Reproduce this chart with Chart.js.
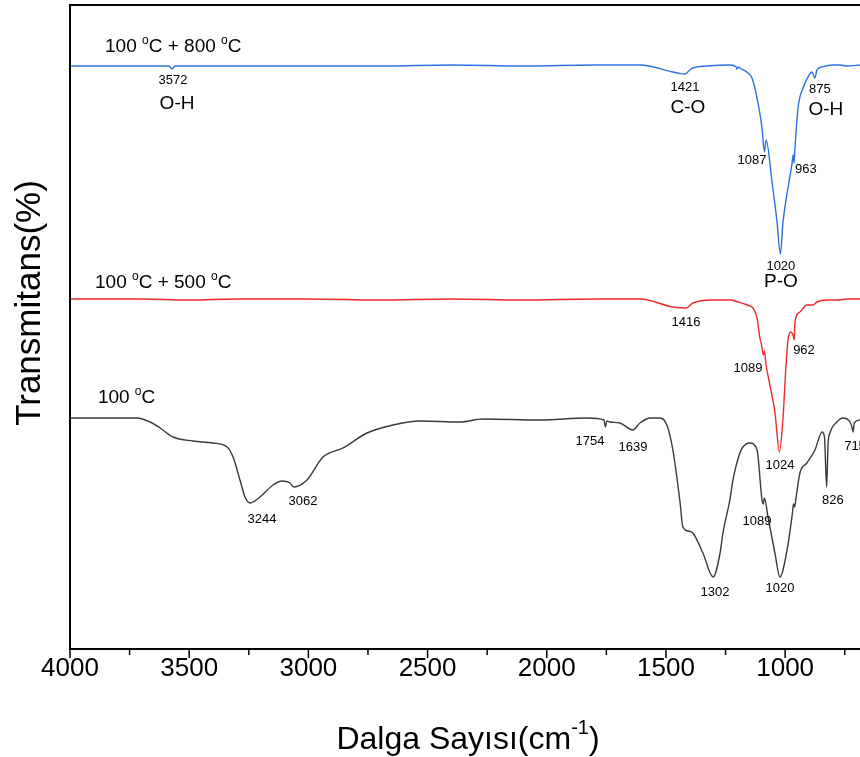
<!DOCTYPE html>
<html>
<head>
<meta charset="utf-8">
<script src="https://cdn.jsdelivr.net/npm/chart.js@4.4.1/dist/chart.umd.min.js"></script>
<style>
  html, body { margin: 0; padding: 0; background: #fff; }
  #wrap { width: 860px; height: 757px; position: relative; }
</style>
</head>
<body>
<div id="wrap"><canvas id="ftir"></canvas></div>
<script>
// FTIR spectra, wavenumber (cm-1) and stacked transmittance (arbitrary units)
const wn800 = [4000,3800,3620,3585,3572,3560,3300,3000,2700,2400,2100,1800,1609,1471,1450,1420,1400,1387,1328,1232,1205,1202,1195,1190,1156,1139,1118,1097,1087,1080,1055,1034,1020,1009,988,972,966,963,959,946,925,904,888,875,867,846,800,770,740,686];
const t800  = [583,583,583,583,580,583,583,583,583,584,583,584,584,577,576,575,579,581,583,584,582,580,582,581,576,571,551,521,497,509,467,427,395,427,461,484,494,486,500,541,561,572,577,571,579,582,584,584,583,584];

const wn500 = [4000,3700,3500,3300,3000,2700,2400,2100,1800,1609,1471,1416,1387,1303,1230,1198,1160,1135,1118,1106,1100,1091,1087,1080,1064,1043,1024,1009,997,988,976,967,962,959,938,909,883,867,825,780,740,686];
const t500  = [350,350,349,350,350,349,350,349,350,350,342,341,346,349,349,347,344,341,331,311,305,294,298,284,264,237,197,231,281,309,317,314,309,327,337,344,344,347,349,349,350,350];

const wn100 = [4000,3800,3719,3664,3622,3568,3484,3400,3341,3316,3287,3266,3244,3203,3148,3111,3077,3062,3006,2939,2855,2754,2645,2532,2364,2268,2029,1831,1760,1754,1748,1735,1693,1639,1609,1567,1525,1496,1471,1442,1429,1408,1387,1345,1302,1273,1261,1232,1219,1190,1177,1148,1118,1097,1092,1087,1072,1043,1022,992,970,965,960,955,938,909,875,845,835,826,820,812,783,758,728,720,715,710,686];
const t100  = [231,231,231,227,221,212,208,206,202,192,169,152,146,152,164,168,166,162,169,192,201,216,224,228,227,230,229,231,229,222,228,227,226,219,226,231,231,224,199,149,122,118,116,96,72,96,116,149,169,196,202,206,199,149,145,151,132,96,72,99,135,145,142,150,176,186,199,217,212,162,205,216,227,231,227,222,217,226,229];

const xTicks = [4000,3500,3000,2500,2000,1500,1000];

// text written on the plot: [text, wavenumber, transmittance, kind]
const notes = [
  ['100 °C + 800 °C', 3853, 602, 'series'],
  ['3572', 3568, 569, 'peak'],
  ['O-H', 3551, 545, 'group'],
  ['1421', 1420, 562, 'peak'],
  ['C-O', 1408, 541, 'group'],
  ['875', 854, 560, 'peak'],
  ['O-H', 829, 539, 'group'],
  ['1087', 1139, 489, 'peak'],
  ['963', 913, 480, 'peak'],
  ['1020', 1018, 383, 'peak'],
  ['P-O', 1018, 367, 'group'],
  ['100 °C + 500 °C', 3895, 366, 'series'],
  ['1416', 1416, 327, 'peak'],
  ['1089', 1156, 281, 'peak'],
  ['962', 921, 299, 'peak'],
  ['1024', 1022, 184, 'peak'],
  ['100 °C', 3883, 251, 'series'],
  ['3244', 3195, 130, 'peak'],
  ['3062', 3023, 148, 'peak'],
  ['1754', 1819, 208, 'peak'],
  ['1639', 1638, 202, 'peak'],
  ['1302', 1294, 57, 'peak'],
  ['1089', 1118, 128, 'peak'],
  ['1020', 1022, 61, 'peak'],
  ['826', 800, 149, 'peak'],
  ['715', 707, 203, 'peak']
];

const FONT = "'Liberation Sans', Arial, sans-serif";

function toPoints(xs, ys) {
  return xs.map((x, i) => ({ x: x, y: ys[i] }));
}

// draws text, turning the degree sign into a raised small "o"
function drawNote(ctx, text, x, y, size, align) {
  const parts = text.split('°');
  const supFont = Math.round(size * 0.65) + 'px ' + FONT;
  let total = 0;
  parts.forEach((p, i) => {
    ctx.font = size + 'px ' + FONT;
    total += ctx.measureText(p).width;
    if (i < parts.length - 1) { ctx.font = supFont; total += ctx.measureText('o').width; }
  });
  let cx = align === 'left' ? x : x - total / 2;
  ctx.textAlign = 'left';
  ctx.textBaseline = 'middle';
  parts.forEach((p, i) => {
    ctx.font = size + 'px ' + FONT;
    ctx.fillText(p, cx, y);
    cx += ctx.measureText(p).width;
    if (i < parts.length - 1) {
      ctx.font = supFont;
      ctx.fillText('o', cx, y - size * 0.33);
      cx += ctx.measureText('o').width;
    }
  });
}

const framePlugin = {
  id: 'framePlugin',
  afterDraw(chart) {
    const ctx = chart.ctx;
    const a = chart.chartArea;
    const xs = chart.scales.x;
    const ys = chart.scales.y;
    ctx.save();
    ctx.strokeStyle = '#000';
    ctx.lineWidth = 2;
    ctx.beginPath();
    ctx.moveTo(a.right + 2, a.top);
    ctx.lineTo(a.left, a.top);
    ctx.lineTo(a.left, a.bottom);
    ctx.lineTo(a.right + 2, a.bottom);
    ctx.stroke();

    // major and minor tick marks
    ctx.lineWidth = 1.5;
    for (let v = 4000; v >= 500; v -= 250) {
      const px = xs.getPixelForValue(v);
      if (px > a.right) continue;
      const len = v % 500 === 0 ? 9 : 6;
      ctx.beginPath();
      ctx.moveTo(px, a.bottom);
      ctx.lineTo(px, a.bottom + len);
      ctx.stroke();
    }

    ctx.fillStyle = '#000';
    notes.forEach(n => {
      const px = xs.getPixelForValue(n[1]);
      const py = ys.getPixelForValue(n[2]);
      if (n[3] === 'series') drawNote(ctx, n[0], px, py, 19, 'left');
      else if (n[3] === 'group') drawNote(ctx, n[0], px, py, 19, 'center');
      else drawNote(ctx, n[0], px, py, 13, 'center');
    });

    // y axis title
    ctx.save();
    ctx.translate(30, 303);
    ctx.rotate(-Math.PI / 2);
    ctx.font = '35px ' + FONT;
    ctx.textAlign = 'center';
    ctx.textBaseline = 'middle';
    ctx.fillText('Transmitans(%)', 0, 0);
    ctx.restore();

    // x axis title with superscript -1
    const main1 = 'Dalga Sayısı(cm', sup = '-1', main2 = ')';
    ctx.font = '32px ' + FONT;
    const w1 = ctx.measureText(main1).width, w3 = ctx.measureText(main2).width;
    ctx.font = '20px ' + FONT;
    const w2 = ctx.measureText(sup).width;
    let tx = 468 - (w1 + w2 + w3) / 2;
    ctx.textAlign = 'left';
    ctx.textBaseline = 'middle';
    ctx.font = '32px ' + FONT;
    ctx.fillText(main1, tx, 740);
    tx += w1;
    ctx.font = '20px ' + FONT;
    ctx.fillText(sup, tx, 728);
    tx += w2;
    ctx.font = '32px ' + FONT;
    ctx.fillText(main2, tx, 740);
    ctx.restore();
  }
};

function lineSet(label, xs, ys, color) {
  return {
    label: label,
    data: toPoints(xs, ys),
    borderColor: color,
    borderWidth: 1.4,
    pointRadius: 0,
    fill: false,
    cubicInterpolationMode: 'monotone'
  };
}

new Chart(document.getElementById('ftir'), {
  type: 'line',
  data: {
    datasets: [
      lineSet('100 °C + 800 °C', wn800, t800, '#2a72e0'),
      lineSet('100 °C + 500 °C', wn500, t500, '#ee2a2a'),
      lineSet('100 °C', wn100, t100, '#3a3a3a')
    ]
  },
  options: {
    responsive: true,
    maintainAspectRatio: false,
    animation: false,
    layout: { padding: { left: 70, top: 5, right: 0, bottom: 0 } },
    plugins: {
      legend: { display: false },
      tooltip: { enabled: false }
    },
    scales: {
      x: {
        type: 'linear',
        reverse: true,
        min: 686,
        max: 4000,
        grid: { display: false, drawTicks: false },
        border: { display: false },
        afterBuildTicks: s => { s.ticks = xTicks.map(v => ({ value: v })); },
        afterFit: s => { s.height = 108; },
        ticks: {
          padding: 4,
          color: '#000',
          font: { family: FONT, size: 26 },
          callback: v => String(v)
        }
      },
      y: {
        display: false,
        min: 0,
        max: 644
      }
    }
  },
  plugins: [framePlugin]
});
</script>
</body>
</html>
